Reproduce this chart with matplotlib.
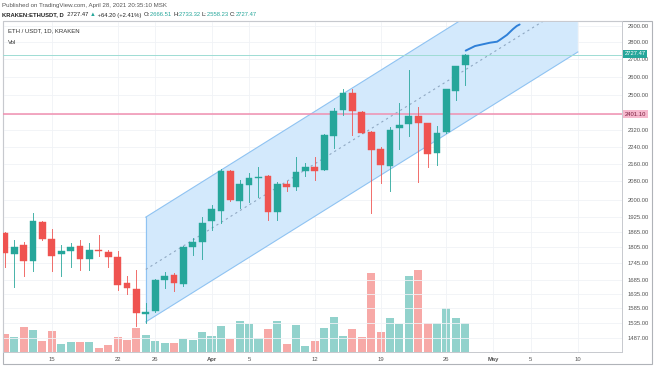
import numpy as np
import pandas as pd
import matplotlib
matplotlib.use("Agg")
import matplotlib.pyplot as plt
import matplotlib.dates as mdates
from matplotlib.patches import Rectangle, Polygon
from matplotlib.ticker import FixedLocator, NullFormatter, NullLocator

plt.rcParams['font.family'] = ['Liberation Sans', 'DejaVu Sans']

# ---------------- data ----------------
dates = pd.date_range('2021-03-10', '2021-04-28', freq='D')
opens = [1861, 1780, 1814, 1752, 1907, 1838, 1780, 1790, 1810, 1762, 1795, 1789, 1770, 1673, 1652, 1565,
         1575, 1683, 1701, 1669, 1807, 1826, 1909, 1953, 2126, 1995, 2063, 2096, 2103, 1948, 2069, 2053,
         2126, 2143, 2130, 2292, 2423, 2511, 2414, 2313, 2227, 2149, 2330, 2351, 2392, 2355, 2211, 2311,
         2525, 2666.51]
highs = [1866, 1834, 1826, 1944, 1911, 1878, 1814, 1823, 1834, 1823, 1855, 1795, 1792, 1698, 1720, 1603,
         1687, 1714, 1710, 1810, 1843, 1928, 1977, 2134, 2130, 2085, 2118, 2143, 2108, 2075, 2082, 2189,
         2164, 2192, 2300, 2431, 2533, 2533, 2416, 2316, 2240, 2338, 2458, 2639, 2437, 2356, 2341, 2535,
         2662, 2733.32]
lows = [1731, 1658, 1698, 1716, 1834, 1716, 1698, 1732, 1720, 1720, 1772, 1732, 1648, 1634, 1525, 1535,
        1572, 1654, 1645, 1662, 1775, 1760, 1874, 1901, 1994, 1963, 1991, 2012, 1914, 1914, 2037, 2041,
        2103, 2085, 2130, 2232, 2397, 2296, 2306, 1943, 2071, 2038, 2227, 2292, 2078, 2146, 2152, 2306,
        2475, 2558.23]
closes = [1783, 1808, 1753, 1911, 1837, 1772, 1791, 1808, 1762, 1795, 1790, 1770, 1667, 1655, 1567, 1572,
          1683, 1698, 1672, 1808, 1825, 1901, 1959, 2126, 1998, 2066, 2093, 2100, 1948, 2068, 2053, 2121,
          2143, 2126, 2296, 2419, 2511, 2419, 2308, 2224, 2154, 2321, 2346, 2392, 2358, 2205, 2308, 2533,
          2663, 2727.47]
volumes = [9000, 7500, 12500, 11000, 5500, 10500, 4000, 5000, 5000, 5000, 2000, 3500, 7500, 6000, 12000,
           8500, 5500, 4500, 4500, 6500, 6000, 10000, 8000, 13000, 6500, 15500, 14000, 7000, 11500, 15500,
           4000, 13500, 3000, 5500, 12000, 17500, 8000, 11500, 7500, 39500, 10000, 17000, 14000, 38000,
           41000, 14500, 14500, 22000, 17000, 14500]

price_ticks = [1487, 1535, 1585, 1635, 1685, 1745, 1805, 1865, 1925, 2000, 2080, 2160, 2240, 2320,
               2500, 2600, 2700, 2800, 2900]
date_ticks = ['2021-03-15', '2021-03-22', '2021-03-26', '2021-04-01', '2021-04-05', '2021-04-12',
              '2021-04-19', '2021-04-26', '2021-05-01', '2021-05-05', '2021-05-10']
date_labels = ['15', '22', '26', 'Apr', '5', '12', '19', '26', 'May', '5', '10']

# parallel channel (drawing) : start / end dates and prices
chan_dates = ['2021-03-25', '2021-05-10']
chan_upper = [1926, 3434]
chan_mid = [1722, 3069]
chan_lower = [1539, 2743]

# hand drawn projection path
proj_days = [27.06, 28.05, 29.65, 30.4, 30.7, 31.45, 32.1, 32.5, 32.8]   # days after Apr 1
proj_prices = [2751, 2778, 2798, 2804, 2815, 2845, 2881, 2900, 2909]

hline_level = 2401.10
last_price = 2727.47

# ---------------- figure ----------------
W, H = 654, 366
fig = plt.figure(figsize=(W / 100, H / 100), dpi=100)
fig.patch.set_facecolor('white')

x0, x1, ytop, ybot = 3, 622, 21, 352
ax = fig.add_axes([x0 / W, 1 - ybot / H, (x1 - x0) / W, (ybot - ytop) / H])
ax.set_yscale('log')
ax.set_ylim(1443, 2931)

xd = mdates.date2num(dates)
apr1 = mdates.date2num(pd.Timestamp('2021-04-01'))
ax.set_xlim(apr1 - 22.2, apr1 + 43.7)

# volume (overlay)
axv = ax.twinx()
axv.set_ylim(0, 165500)
vcol = ['#92d2cc' if c >= o else '#f7a9a7' for o, c in zip(opens, closes)]
axv.bar(xd, volumes, width=0.86, color=vcol, zorder=1)
axv.set_yticks([])
axv.yaxis.set_major_locator(NullLocator())
ax.set_zorder(axv.get_zorder() + 1)
ax.patch.set_visible(False)
axv.set_facecolor('white')

# grid
for p in price_ticks + [hline_level]:
    ax.axhline(p, color='#f0f2f6', lw=0.6, zorder=0)
for d in date_ticks:
    ax.axvline(mdates.date2num(pd.Timestamp(d)), color='#f0f2f6', lw=0.6, zorder=0)

# channel
cd = mdates.date2num(pd.to_datetime(chan_dates))
poly = Polygon([(cd[0], chan_upper[0]), (cd[1], chan_upper[1]), (cd[1], chan_lower[1]), (cd[0], chan_lower[0])],
               closed=True, facecolor='#d3e9fc', edgecolor='none', zorder=1)
ax.add_patch(poly)
ax.plot(cd, chan_upper, color='#8fc3f2', lw=0.8, zorder=2)
ax.plot(cd, chan_lower, color='#8fc3f2', lw=0.8, zorder=2)
ax.plot([cd[0], cd[0]], [chan_lower[0], chan_upper[0]], color='#8fc3f2', lw=0.8, zorder=2)
ax.plot(cd, chan_mid, color='#8fa8c2', lw=0.8, ls=(0, (2, 3)), zorder=2)

# horizontal lines
ax.axhline(hline_level, color='#f08fb0', lw=1.1, zorder=3)
ax.axhline(last_price, color='#9fdcd4', lw=0.7, zorder=3)

# candles
up_c, dn_c = '#26a69a', '#ef5350'
for x, o, h, l, c in zip(xd, opens, highs, lows, closes):
    col = up_c if c >= o else dn_c
    ax.plot([x, x], [l, h], color=col, lw=0.7, zorder=4, alpha=0.85)
    lo, hi = min(o, c), max(o, c)
    if hi / lo < 1.002:
        hi = lo * 1.002
    ax.add_patch(Rectangle((x - 0.36, lo), 0.72, hi - lo, facecolor=col, edgecolor=col, lw=0.3, zorder=5))

# projection curve
ax.plot(apr1 + np.array(proj_days), proj_prices, color='#2f80d8', lw=1.4, zorder=6, solid_capstyle='round')

# axes styling
ax.yaxis.set_major_locator(FixedLocator(price_ticks))
ax.yaxis.set_minor_locator(NullLocator())
ax.yaxis.set_minor_formatter(NullFormatter())
ax.set_yticklabels([f'{p:.2f}' for p in price_ticks])
ax.yaxis.tick_right()
ax.tick_params(axis='y', which='both', length=0, labelsize=4.2, labelcolor='#555555', pad=4)
axv.tick_params(axis='y', length=0, labelright=False)
ax.set_xticks(mdates.date2num(pd.to_datetime(date_ticks)))
ax.set_xticklabels(date_labels)
ax.tick_params(axis='x', length=0, labelsize=4.2, labelcolor='#555555', pad=3.5)
for lab in ax.get_xticklabels():
    if lab.get_text() in ('Apr', 'May'):
        lab.set_fontweight('bold')
for a in (ax, axv):
    for s in a.spines.values():
        s.set_color('#c8cacf')
        s.set_linewidth(0.7)

# price labels on axis
ax.annotate(f'{last_price:.2f}', xy=(1.0, last_price), xycoords=('axes fraction', 'data'),
            xytext=(2, 0.6), textcoords='offset points', fontsize=4.2, color='white', va='center',
            bbox=dict(boxstyle='square,pad=0.25', fc='#26a69a', ec='none'), zorder=10, annotation_clip=False)
ax.annotate(f'{hline_level:.2f}', xy=(1.0, hline_level), xycoords=('axes fraction', 'data'),
            xytext=(2, 0), textcoords='offset points', fontsize=4.2, color='#7a2040', va='center',
            bbox=dict(boxstyle='square,pad=0.25', fc='#f6b8cd', ec='none'), zorder=10, annotation_clip=False)

# in-chart legend texts
ax.text(5 / (x1 - x0), 1 - 10 / (ybot - ytop), 'ETH / USDT, 1D, KRAKEN', transform=ax.transAxes,
        fontsize=4.3, color='#333333', va='center', ha='left')
ax.text(5 / (x1 - x0), 1 - 22 / (ybot - ytop), 'Vol', transform=ax.transAxes,
        fontsize=4.3, color='#333333', va='center', ha='left')

# header
fig.text(2 / W, 1 - 5 / H, 'Published on TradingView.com, April 28, 2021 20:35:10 MSK',
         fontsize=4.4, color='#555555', va='center', ha='left')
parts = [('KRAKEN:ETHUSDT, D', '#222222', 'bold'), ('  2727.47 ', '#222222', 'normal'),
         ('▲', '#26a69a', 'normal'), (' +64.20 (+2.41%)  ', '#222222', 'normal'),
         ('O:', '#222222', 'normal'), ('2666.51 ', '#26a69a', 'normal'),
         ('H:', '#222222', 'normal'), ('2733.32 ', '#26a69a', 'normal'),
         ('L:', '#222222', 'normal'), ('2558.23 ', '#26a69a', 'normal'),
         ('C:', '#222222', 'normal'), ('2727.47', '#26a69a', 'normal')]
fig.canvas.draw()
r = fig.canvas.get_renderer()
xpos = 2
for txt, col, fw in parts:
    t = fig.text(xpos / W, 1 - 15 / H, txt, fontsize=4.2, color=col, fontweight=fw, va='center', ha='left',
                 family=['Liberation Sans', 'DejaVu Sans'])
    bb = t.get_window_extent(renderer=r)
    xpos += bb.width

# outer frame
fig.add_artist(Rectangle((3 / W, 1 - 364 / H), 649 / W, 343 / H, transform=fig.transFigure,
                         fill=False, edgecolor='#b0b3b8', lw=0.8))

fig.savefig('out.png', dpi=100)
